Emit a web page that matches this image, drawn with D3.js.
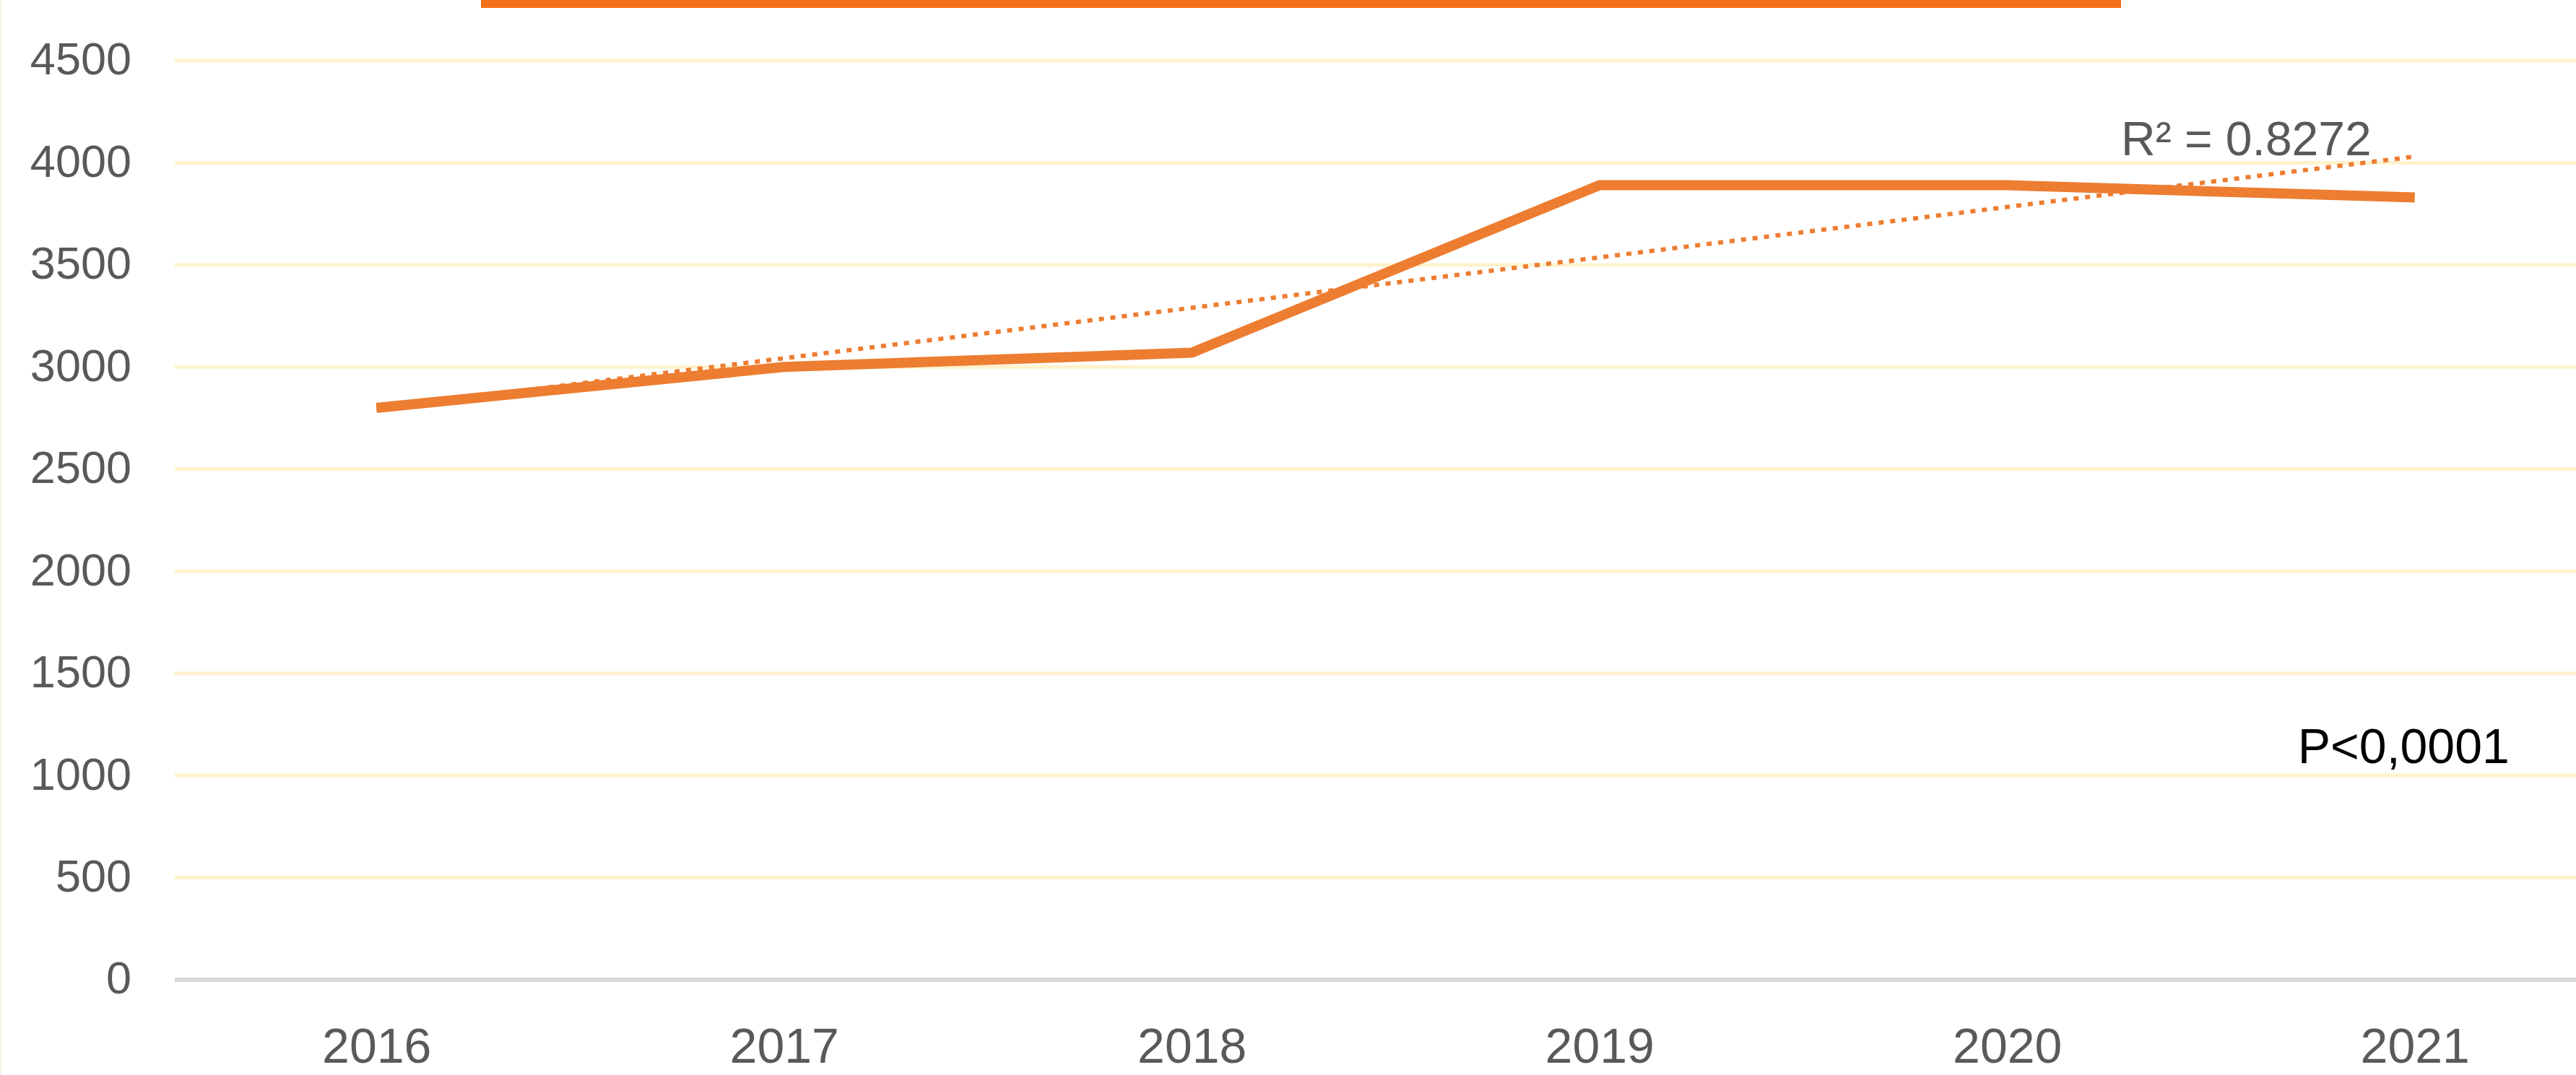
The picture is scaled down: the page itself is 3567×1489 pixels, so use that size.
<!DOCTYPE html>
<html>
<head>
<meta charset="utf-8">
<script src="https://cdn.jsdelivr.net/npm/d3@7"></script>
<style>
  html, body { margin: 0; padding: 0; background: #fff; }
  svg { display: block; }
</style>
</head>
<body>
<script>
// chart data
var years = ["2016", "2017", "2018", "2019", "2020", "2021"];
var values = [2800, 3000, 3070, 3890, 3890, 3830];
var yTicks = [0, 500, 1000, 1500, 2000, 2500, 3000, 3500, 4000, 4500];
var r2Label = "R\u00b2 = 0.8272";
var pLabel = "P<0,0001";

var W = 3567, H = 1489;
var orange = "#ED7D31";

var svg = d3.select("body").append("svg").attr("width", W).attr("height", H);

var x = d3.scalePoint().domain(years).range([239, 3626]).padding(0.5);
var y = d3.scaleLinear().domain([0, 4500]).range([1357, 84]);

// thin frame line on the left edge and cut off title box at the top
svg.append("rect").attr("x", 0).attr("y", 0).attr("width", 2).attr("height", H).attr("fill", "#f2f5e4");
svg.append("rect").attr("x", 666).attr("y", 0).attr("width", 2271).attr("height", 11).attr("fill", "#F4701A");

// gridlines
svg.append("g").selectAll("line")
  .data(yTicks.filter(d => d > 0))
  .join("line")
  .attr("x1", 242).attr("x2", W)
  .attr("y1", d => y(d)).attr("y2", d => y(d))
  .attr("stroke", "#fff2cc").attr("stroke-width", 5);

// category axis line
svg.append("line")
  .attr("x1", 242).attr("x2", W)
  .attr("y1", y(0)).attr("y2", y(0))
  .attr("stroke", "#d9d9d9").attr("stroke-width", 6);

// y axis labels
var yAxis = d3.axisLeft(y).tickValues(yTicks).tickSize(0).tickPadding(0).tickFormat(d3.format("d"));
var gy = svg.append("g").attr("transform", "translate(182,0)").call(yAxis);
gy.select(".domain").remove();
gy.selectAll("text")
  .attr("font-family", "'Liberation Sans', Arial, sans-serif")
  .attr("font-size", 63).attr("fill", "#595959")
  .attr("dy", "0.3em");

// x axis labels
var xAxis = d3.axisBottom(x).tickSize(0).tickPadding(0);
var gx = svg.append("g").attr("transform", "translate(0,1472)").call(xAxis);
gx.select(".domain").remove();
gx.selectAll("text")
  .attr("font-family", "'Liberation Sans', Arial, sans-serif")
  .attr("font-size", 68).attr("fill", "#595959")
  .attr("dy", 0).attr("y", 0);

// data line
var line = d3.line().x((d, i) => x(years[i])).y(d => y(d));
svg.append("path")
  .datum(values)
  .attr("d", line)
  .attr("fill", "none")
  .attr("stroke", orange)
  .attr("stroke-width", 14)
  .attr("stroke-linejoin", "round");

// linear trendline (least squares over the category index)
var idx = values.map((d, i) => i + 1);
var mx = d3.mean(idx), my = d3.mean(values);
var sxy = d3.sum(values, (d, i) => (idx[i] - mx) * (d - my));
var sxx = d3.sum(idx, d => (d - mx) * (d - mx));
var slope = sxy / sxx, icpt = my - slope * mx;
var trend = [idx[0], idx[idx.length - 1]].map(k => ({ k: k, v: icpt + slope * k }));

svg.append("path")
  .datum(trend)
  .attr("d", d3.line().x(d => x(years[d.k - 1])).y(d => y(d.v)))
  .attr("fill", "none")
  .attr("stroke", orange)
  .attr("stroke-width", 6)
  .attr("stroke-dasharray", "7,9");

// annotations
svg.append("text")
  .attr("x", x("2021") - 60).attr("y", y(4000) - 10)
  .attr("text-anchor", "end")
  .attr("font-family", "'Liberation Sans', Arial, sans-serif")
  .attr("font-size", 66).attr("fill", "#595959")
  .text(r2Label);

svg.append("text")
  .attr("x", x("2021") - 162).attr("y", y(1000) - 17)
  .attr("font-family", "'Liberation Sans', Arial, sans-serif")
  .attr("font-size", 68).attr("fill", "#000")
  .text(pLabel);
</script>
</body>
</html>
